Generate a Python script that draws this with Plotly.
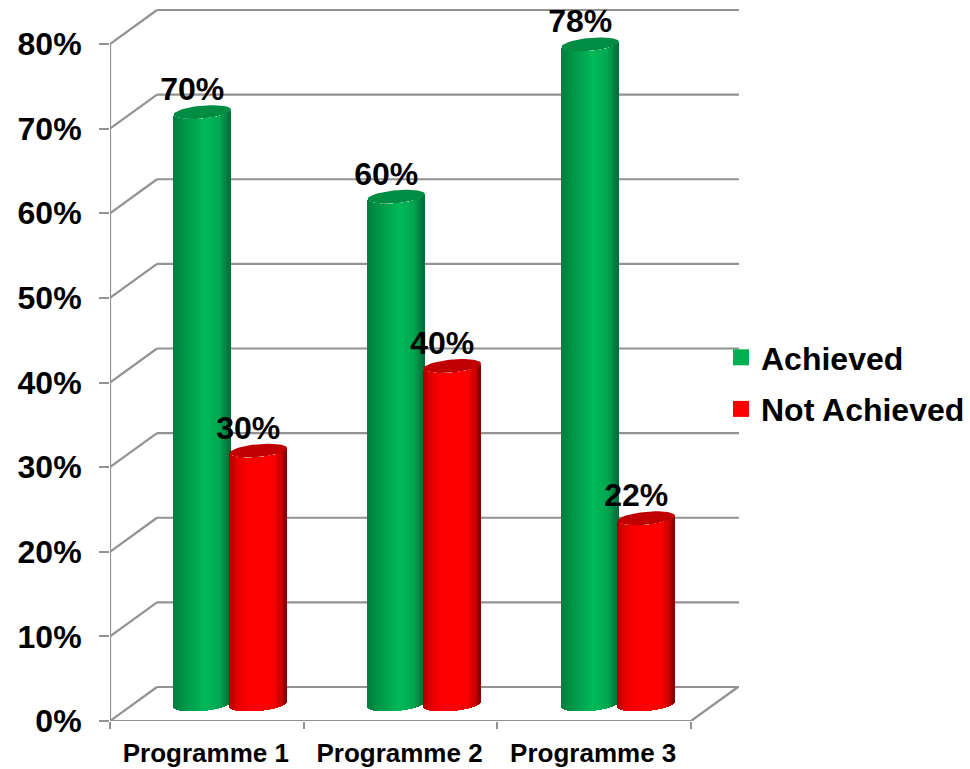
import numpy as np
import plotly.graph_objects as go

categories = ["Programme 1", "Programme 2", "Programme 3"]
achieved = [70, 60, 78]
not_achieved = [30, 40, 22]
tick_values = [0, 10, 20, 30, 40, 50, 60, 70, 80]
tick_labels = ["0%", "10%", "20%", "30%", "40%", "50%", "60%", "70%", "80%"]

FONT = "Liberation Sans"
GRID = "#929292"

# pixel geometry of the pseudo-3D frame (page coordinates)
L, R, T, B = 110, 739, 9, 721
PX_X = (691 - 110) / 3          # px per category
PX_Y = (721 - 44) / 80          # px per percent
DX, DY = 47 / PX_X, 34 / PX_Y   # depth of the floor in data units
X_MAX = (R - L) / PX_X
Y_MAX = (B - T) / PX_Y
W = 57.5 / PX_X                 # cylinder diameter
CY_BASE = 16.5 / PX_Y           # cylinder centre lift
H = 6.5 / PX_Y                  # cap half height
TILT = 2.5 / PX_Y               # cap tilt at the rim

shapes = []
def line(x0, y0, x1, y1, w=2.2):
    shapes.append(dict(type="line", xref="x", yref="y", x0=x0, y0=y0, x1=x1, y1=y1,
                       line=dict(color=GRID, width=w), layer="below"))

for v in tick_values:
    line(0, v, DX, v + DY)
    line(DX, v + DY, X_MAX, v + DY)
line(0, 0, 0, tick_values[-1])
line(0, 0, 3, 0)
line(3, 0, 3 + DX, DY)


def ramp(t, stops):
    xs = [s[0] for s in stops]
    return "rgb(%d,%d,%d)" % tuple(np.interp(t, xs, [s[1][i] for s in stops]) for i in range(3))


GREEN = [(-1, (0, 125, 62)), (-0.6, (0, 150, 72)), (0.1, (0, 186, 90)),
         (0.65, (0, 165, 80)), (1, (0, 110, 55))]
RED = [(-1, (170, 0, 0)), (-0.7, (232, 0, 0)), (-0.3, (255, 0, 0)), (0.5, (255, 0, 0)),
       (0.85, (200, 0, 0)), (1, (125, 0, 0))]
N = 58
ts = (np.arange(N) + 0.5) / N * 2 - 1


def cylinders(values, centres, stops):
    xs, bases, ys, widths, cols = [], [], [], [], []
    for v, c in zip(values, centres):
        for t in ts:
            xs.append(c + t * W / 2)
            low = CY_BASE + TILT * t - H * np.sqrt(1 - t * t)
            bases.append(low)
            ys.append(v)
            widths.append(W / N * 1.3)
            cols.append(ramp(t, stops))
    return go.Bar(x=xs, y=ys, base=bases, width=widths, showlegend=False, hoverinfo="skip",
                  marker=dict(color=cols, line=dict(width=0)))


def caps(values, centres, colour):
    th = np.linspace(0, 2 * np.pi, 61)
    xs, ys = [], []
    for v, c in zip(values, centres):
        t = np.cos(th)
        xs += list(c + t * W / 2) + [None]
        ys += list(v + CY_BASE + TILT * t + H * np.sin(th)) + [None]
    return go.Scatter(x=xs, y=ys, mode="lines", fill="toself", fillcolor=colour,
                      line=dict(width=0, color=colour), showlegend=False, hoverinfo="skip")


c_green = [(202.3 - L + i * 194) / PX_X for i in range(3)]
c_red = [(258.3 - L + i * 194) / PX_X for i in range(3)]

fig = go.Figure()
fig.add_trace(cylinders(achieved, c_green, GREEN))
fig.add_trace(caps(achieved, c_green, "rgb(0,140,66)"))
fig.add_trace(cylinders(not_achieved, c_red, RED))
fig.add_trace(caps(not_achieved, c_red, "rgb(192,0,0)"))

lab_dx = -10 / PX_X
lab_dy = 20 / PX_Y
vals = achieved + not_achieved
cents = c_green + c_red
fig.add_trace(go.Scatter(
    x=[c + lab_dx for c in cents],
    y=[v + CY_BASE + lab_dy for v in vals],
    text=[f"{v}%" for v in vals], mode="text", textposition="middle center",
    textfont=dict(family=FONT, size=32, color="black", weight="bold"),
    showlegend=False, hoverinfo="skip", cliponaxis=False))

fig.add_trace(go.Scatter(x=[None], y=[None], mode="markers", name="Achieved", legendgroup="a",
                         marker=dict(symbol="square", size=17, color="#00b050")))
fig.add_trace(go.Scatter(x=[None], y=[None], mode="markers", name="Not Achieved", legendgroup="b",
                         marker=dict(symbol="square", size=17, color="#ff0000")))

fig.update_layout(
    width=970, height=769, autosize=False,
    margin=dict(l=L, r=970 - R, t=T, b=769 - B, pad=0, autoexpand=False),
    paper_bgcolor="white", plot_bgcolor="white",
    barmode="overlay", bargap=0, shapes=shapes,
    font=dict(family=FONT, color="black"),
    xaxis=dict(range=[0, X_MAX], tickvals=[0.495, 1.495, 2.495], ticktext=categories,
               showgrid=False, zeroline=False, showline=False, ticks="",
               ticklabelstandoff=14, automargin=False,
               tickfont=dict(family=FONT, size=26, color="black", weight="bold"),
               minor=dict(tickvals=[0, 1, 2, 3], ticks="outside", ticklen=7,
                          tickcolor=GRID, tickwidth=2, showgrid=False)),
    yaxis=dict(range=[0, Y_MAX], tickvals=tick_values, ticktext=tick_labels,
               showgrid=False, zeroline=False, showline=False,
               ticks="outside", ticklen=10, tickcolor=GRID, tickwidth=2,
               ticklabelstandoff=11, automargin=False,
               tickfont=dict(family=FONT, size=32, color="black", weight="bold")),
    legend=dict(x=(730 - L) / (R - L), y=284 / (721 - 9), xanchor="left", yanchor="bottom",
                bgcolor="rgba(0,0,0,0)", borderwidth=0, itemclick=False,
                tracegroupgap=7, traceorder="grouped", indentation=-9,
                font=dict(family=FONT, size=32, color="black", weight="bold")),
)
fig.write_html("out.html", config=dict(displayModeBar=False),
               post_script="document.body.style.margin='0';")
